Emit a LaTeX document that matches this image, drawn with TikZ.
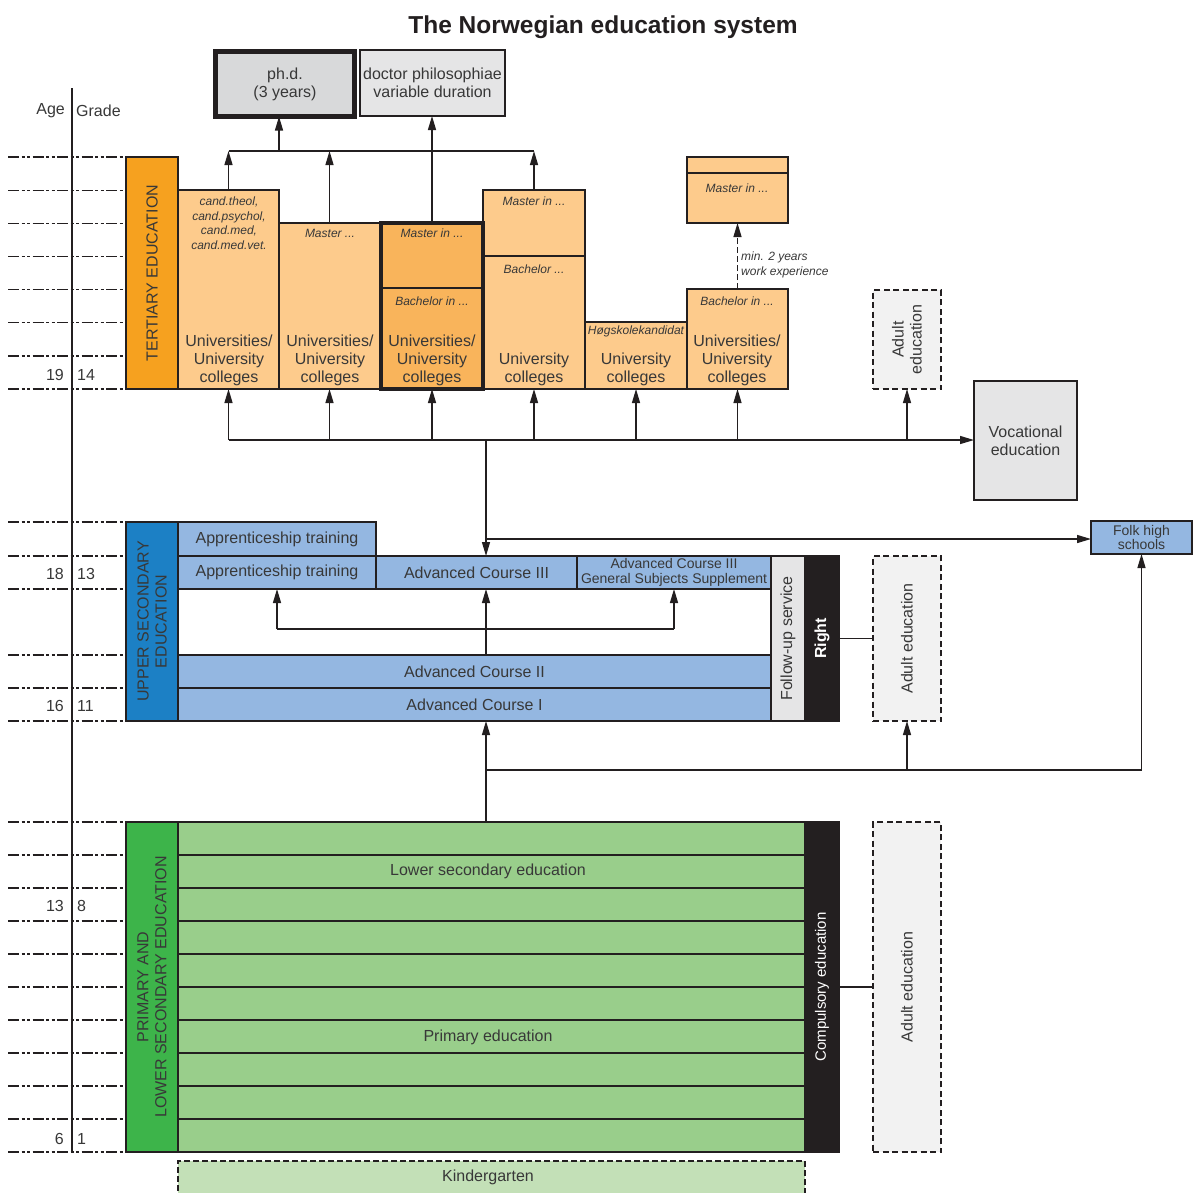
\documentclass[tikz,border=0pt]{standalone}
\usepackage{fontspec}
\setmainfont{Liberation Sans}
\usetikzlibrary{arrows.meta}
\definecolor{tdark}{HTML}{F6A11F}
\definecolor{tlight}{HTML}{FDCB8C}
\definecolor{tmid}{HTML}{F9B45B}
\definecolor{ubar}{HTML}{1C80C5}
\definecolor{ulight}{HTML}{94B7E1}
\definecolor{gbar}{HTML}{3DB44A}
\definecolor{glight}{HTML}{99CE8B}
\definecolor{kind}{HTML}{C3E0B7}
\definecolor{grey1}{HTML}{E5E5E6}
\definecolor{grey2}{HTML}{D8D9DA}
\definecolor{grey3}{HTML}{F2F2F2}
\definecolor{ink}{HTML}{231F20}
\definecolor{txt}{HTML}{383838}
\newcommand{\fsmain}{\fontsize{16}{18}\selectfont}
\newcommand{\fsital}{\fontsize{12}{14.5}\selectfont\itshape}
\newcommand{\fssmall}{\fontsize{14}{15.5}\selectfont}
\newcommand{\mybox}[7][]{\node[box,#1,minimum width={((#5)-(#3))*1pt},minimum height={((#6)-(#4))*1pt}] (#2) at ({((#3)+(#5))/2},{((#4)+(#6))/2}) {#7};}
\begin{document}
\begin{tikzpicture}[x=1pt,y=-1pt,
 every node/.append style={text=txt},
 box/.style={draw=ink,line width=1.3pt,inner sep=0pt,outer sep=0pt,align=center,font=\fsmain},
 dbox/.style={box,fill=grey3,dash pattern=on 6pt off 3.5pt},
 conn/.style={draw=ink,line width=1.3pt},
 arr/.style={conn,-{Triangle[length=14pt,width=8pt]}},
 gridline/.style={draw=ink,line width=1.2pt,dash pattern=on 11pt off 2.5pt on 3pt off 2.5pt on 3pt off 2.5pt},
 lab/.style={inner sep=0pt,align=center,font=\fsmain},
 ital/.style={inner sep=0pt,align=center,font=\fsital},
 vlab/.style={lab,rotate=90}]
\clip (0,0) rectangle (1193,1192);
\fill[white] (0,0) rectangle (1193,1192);

% title
\node[inner sep=0pt,font=\bfseries\fontsize{24.5}{28}\selectfont,text=ink] (title) at (603,27) {The Norwegian education system};

% axis
\node[lab,anchor=east] (age) at (65,111) {Age};
\node[lab,anchor=west] (grade) at (76,111) {Grade};
\coordinate (axtop) at (72,88);
\coordinate (axbot) at (72,1153);
\draw[conn] (axtop) -- (axbot);
\foreach \y in {157,190.1,223.3,256.4,289.6,322.7,355.9,389,
                522,556,589,655,688,721,
                822,855,888,921,954,987,1020,1053,1086,1119,1152}
  {\draw[gridline] (8,\y) -- (126,\y);}
\node[lab,anchor=east] (a19) at (64,375) {19};
\node[lab,anchor=west] (g14) at (77,375) {14};
\node[lab,anchor=east] (a18) at (64,574) {18};
\node[lab,anchor=west] (g13) at (77,574) {13};
\node[lab,anchor=east] (a16) at (64,706) {16};
\node[lab,anchor=west] (g11) at (77,706) {11};
\node[lab,anchor=east] (a13) at (64,906) {13};
\node[lab,anchor=west] (g8) at (77,906) {8};
\node[lab,anchor=east] (a6) at (64,1139) {6};
\node[lab,anchor=west] (g1) at (77,1139) {1};

% ---------- tertiary ----------
\mybox[fill=tdark]{tert}{126}{157}{178}{389}{}
\node[vlab] (tertl) at (tert) {TERTIARY EDUCATION};
\mybox[fill=tlight]{c1}{178}{190}{279}{389}{}
\mybox[fill=tlight]{c2}{279}{223}{380}{389}{}
\mybox[fill=tlight]{c4u}{483}{190}{585}{256}{}
\mybox[fill=tlight]{c4}{483}{256}{585}{389}{}
\mybox[fill=tlight]{c5}{585}{322}{687}{389}{}
\mybox[fill=tlight]{c6}{687}{289}{788}{389}{}
\mybox[fill=tlight]{m7h}{687}{157}{788}{173}{}
\mybox[fill=tlight]{m7}{687}{173}{788}{223}{}
\mybox[fill=tmid]{c3u}{381}{223}{483}{288}{}
\mybox[fill=tmid]{c3}{381}{288}{483}{389}{}
\draw[draw=ink,line width=4pt] (c3u.north west) rectangle (c3.south east);

\node[ital] (c1t) at (229,223) {cand.theol,\\cand.psychol,\\cand.med,\\cand.med.vet.};
\node[lab] (c1b) at (229,360) {Universities/\\University\\colleges};
\node[ital] (c2t) at (330,233) {Master ...};
\node[lab] (c2b) at (330,360) {Universities/\\University\\colleges};
\node[ital] (c3t) at (432,233) {Master in ...};
\node[ital] (c3t2) at (432,301) {Bachelor in ...};
\node[lab] (c3b) at (432,360) {Universities/\\University\\colleges};
\node[ital] (c4t) at (534,201) {Master in ...};
\node[ital] (c4t2) at (534,269) {Bachelor ...};
\node[lab] (c4b) at (534,369) {University\\colleges};
\node[ital] (c5t) at (636,331) {Høgskolekandidat};
\node[lab] (c5b) at (636,369) {University\\colleges};
\node[ital] (c6t) at (737,301) {Bachelor in ...};
\node[lab] (c6b) at (737,360) {Universities/\\University\\colleges};
\node[ital] (m7t) at (737,188) {Master in ...};
\node[ital,anchor=west,align=left] (wexp) at (741,265) {min. 2 years\\work experience};

% doctoral
\mybox[fill=grey2,line width=5pt]{phd}{215.5}{51.5}{354.5}{116.5}{ph.d.\\(3 years)}
\mybox[fill=grey1]{doc}{360}{50}{505}{116}{doctor philosophiae\\variable duration}

% top connectors
\coordinate (tj) at (279,151);
\draw[conn] (c1.north |- tj) -- (c4u.north |- tj);
\draw[arr] (c1.north) -- (c1.north |- tj);
\draw[arr] (c2.north) -- (c2.north |- tj);
\draw[arr] (c4u.north) -- (c4u.north |- tj);
\draw[arr] (tj) -- (tj |- phd.south);
\draw[arr] (c3u.north) -- (c3u.north |- doc.south);
\draw[arr,dash pattern=on 6pt off 3pt] (c6.north) -- (m7.south);

% adult / vocational
\mybox[dbox]{adt}{873}{290}{941}{389}{}
\node[vlab] (adtl) at (adt) {Adult\\education};
\mybox[fill=grey1]{voc}{974}{381}{1077}{500}{Vocational\\education}

\coordinate (bj) at (486,440);
\draw[arr] (c1.south |- bj) -- (voc.west |- bj);
\foreach \n in {c1,c2,c3,c4,c5,c6,adt}
  {\draw[arr] (\n.south |- bj) -- (\n.south);}

% ---------- upper secondary ----------
\mybox[fill=ubar]{usec}{126}{522}{178}{721}{}
\node[vlab] (usecl) at (usec) {UPPER SECONDARY\\EDUCATION};
\mybox[fill=ulight]{ap1}{178}{522}{376}{556}{Apprenticeship training}
\mybox[fill=ulight]{ap2}{178}{556}{376}{589}{Apprenticeship training}
\mybox[fill=ulight]{ac3}{376}{556}{577}{589}{Advanced Course III}
\mybox[fill=ulight,font=\fssmall]{gss}{577}{556}{771}{589}{Advanced Course III\\[-1pt]General Subjects Supplement}
\mybox[fill=ulight]{ac2}{178}{655}{771}{688}{Advanced Course II}
\mybox[fill=ulight]{ac1}{178}{688}{771}{721}{Advanced Course I}
\mybox[fill=grey1]{fus}{771}{556}{805}{721}{}
\node[vlab] (fusl) at (fus) {Follow-up service};
\mybox[fill=ink]{right}{805}{556}{839}{721}{}
\node[vlab,text=white,font=\fsmain\bfseries] (rightl) at (right) {Right};
\mybox[dbox]{adu}{873}{556}{941}{721}{}
\node[vlab] (adul) at (adu) {Adult education};
\draw[conn] (right.east) -- (adu.west);

\mybox[fill=ulight,font=\fssmall]{folk}{1091}{521}{1192}{554}{Folk high\\[-2pt]schools}

\draw[arr] (bj) -- (bj |- ac3.north);
\coordinate (fj) at (486,539);
\draw[arr] (fj) -- (fj -| folk.west);

\coordinate (uj) at (486,629);
\draw[conn] (ap2.south |- uj) -- (gss.south |- uj);
\draw[arr] (ap2.south |- uj) -- (ap2.south);
\draw[arr] (gss.south |- uj) -- (gss.south);
\draw[arr] (uj |- ac2.north) -- (uj |- ac3.south);

% ---------- primary ----------
\mybox[fill=gbar]{prim}{126}{822}{178}{1152}{}
\node[vlab] (priml) at (prim) {PRIMARY AND\\LOWER SECONDARY EDUCATION};
\foreach \i in {0,...,9}
  {\mybox[fill=glight]{p\i}{178}{822+33*\i}{805}{855+33*\i}{}}
\node[lab] (lsec) at (488,871) {Lower secondary education};
\node[lab] (pedu) at (488,1037) {Primary education};
\mybox[fill=ink]{comp}{805}{822}{839}{1152}{}
\node[vlab,text=white,font=\fontsize{15}{17}\selectfont] (compl) at (comp) {Compulsory education};
\mybox[dbox]{adp}{873}{822}{941}{1152}{}
\node[vlab] (adpl) at (adp) {Adult education};
\draw[conn] (comp.east) -- (adp.west);
\mybox[fill=kind,dash pattern=on 6pt off 3pt]{kg}{178}{1161}{805}{1215}{}
\node[lab] (kgl) at (488,1177) {Kindergarten};

\coordinate (lj) at (486,770);
\draw[arr] (p0.north -| lj) -- (ac1.south -| lj);
\draw[conn] (lj) -- (adu.south |- lj);
\draw[arr] (adu.south |- lj) -| (folk.south);
\draw[arr] (adu.south |- lj) -- (adu.south);
\end{tikzpicture}
\end{document}
